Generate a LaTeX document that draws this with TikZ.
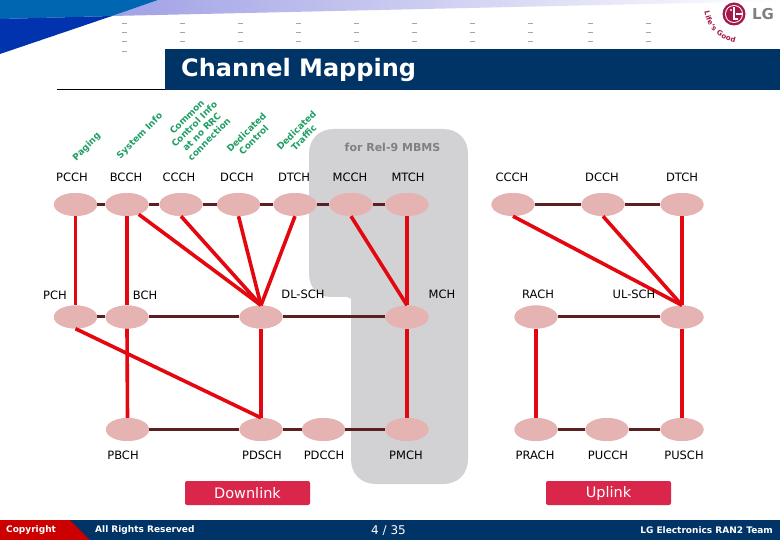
\documentclass[tikz,border=0pt]{standalone}
\usepackage{fontspec}
\setmainfont{DejaVu Sans}
\usetikzlibrary{decorations.text}
\definecolor{navy}{HTML}{003366}
\definecolor{dkline}{HTML}{5C2023}
\definecolor{redline}{HTML}{E4070F}
\definecolor{elfill}{HTML}{E6B3B3}
\definecolor{greenlab}{HTML}{1F9E63}
\definecolor{zone}{HTML}{D2D2D4}
\definecolor{btn}{HTML}{D9264A}
\definecolor{lgred}{HTML}{A5174A}
\tikzset{
  chan/.style={ellipse,fill=elfill,minimum width=43pt,minimum height=23pt,inner sep=0pt},
  lab/.style={font=\fontsize{11.5}{13}\selectfont,text=black,inner sep=0pt},
  glab/.style={font=\fontsize{9}{10.5}\selectfont\bfseries,text=greenlab,rotate=45,align=center,inner sep=0pt},
  dk/.style={draw=dkline,line width=3pt},
  rd/.style={draw=redline,line width=3.6pt},
  button/.style={fill=btn,rounded corners=2pt,minimum width=125pt,minimum height=24pt,inner sep=0pt,text=white,font=\fontsize{14.5}{16}\selectfont},
  foot/.style={font=\fontsize{9}{11}\selectfont\bfseries,text=white,inner sep=0pt},
  tick/.style={draw=black!35,line width=0.7pt}
}
\usetikzlibrary{shapes.geometric}
\begin{document}
\begin{tikzpicture}[x=1pt,y=-1pt]
\useasboundingbox (0,0) rectangle (780,540);
\fill[white] (0,0) rectangle (780,540);
% header
\shade[left color=black!0!blue!30!white!90!black,right color=white] (158,0) -- (780,0) -- (780,1) -- (112,16) -- cycle;
\fill[blue!55!cyan!45!black!60!white,fill=blue!50!black!60!cyan] (0,0) -- (158,0) -- (112,16) -- (0,19) -- cycle;
\fill[fill=blue!60!black!80!cyan] (0,19) -- (112,16) -- (0,54) -- cycle;
\foreach \x in {124,182,240,298,356,414,472,530,590,648}{
  \foreach \y in {23,32,41}{\draw[tick] (\x-2.5,\y) -- (\x+2.5,\y);}
}
\draw[tick] (122,51) -- (127,51);
% logo
\fill[lgred] (734,14) circle (11.5);
\fill[white] (734,14) circle (9);
\fill[lgred] (734,14) circle (8);
\fill[white] (731,10) circle (1.2);
\draw[white,line width=1.2pt] (734,7) -- (734,19) -- (738,19);
\draw[white,line width=1.2pt] (736,14) -- (742,14);
\node[inner sep=0pt,text=black!50,font=\fontsize{15}{16}\selectfont\bfseries] (lg) at (763,14) {LG};
\path[decorate,decoration={text along path,text={|\fontsize{7}{8}\selectfont\bfseries\color{lgred}|Life's Good},text align=center,raise=-2pt}] (706,9) .. controls (708,28) and (720,38) .. (738,41);
% title
\fill[navy] (165,49.5) rectangle (780,90.5);
\draw[black,line width=0.8pt] (57,89.5) -- (165,89.5);
\node[anchor=west,inner sep=0pt,text=white,font=\fontsize{24}{26}\selectfont\bfseries] (title) at (181,70) {Channel Mapping};
% MBMS zone
\fill[zone] (334,129) -- (443,129) .. controls (458,129) and (468,139) .. (468,154) -- (468,459)
  .. controls (468,474) and (458,484) .. (443,484) -- (376,484) .. controls (361,484) and (351,474) .. (351,459)
  -- (351,299) -- (347,297) -- (331,297) .. controls (317,297) and (309,287) .. (309,273) -- (309,154)
  .. controls (309,139) and (319,129) .. (334,129) -- cycle;
\node[inner sep=0pt,text=black!50,font=\fontsize{11}{13}\selectfont\bfseries] (rel) at (392.5,147) {for Rel-9 MBMS};
% green
\node[glab] (g1) at (87,147) {Paging};
\node[glab] (g2) at (140,136) {System Info};
\node[glab] (g3) at (198,128) {Common\\Control Info\\at no RRC\\connection};
\node[glab] (g4) at (250,136) {Dedicated\\Control};
\node[glab] (g5) at (300,134) {Dedicated\\Traffic};
% channels
\foreach \n/\x/\y in {pcch/75.5/204.5,bcch/127/204.5,ccch/181/204.5,dcch/238.5/204.5,dtch/295/204.5,mcch/351/204.5,mtch/407/204.5,
  uccch/513/204.5,udcch/603/204.5,udtch/682/204.5,
  pch/75.5/317,bch/127/317,dlsch/261/317,mch/407/317,rach/536/317,ulsch/682/317,
  pbch/127.5/429.5,pdsch/261/429.5,pdcch/323.5/429.5,pmch/407/429.5,prach/536/429.5,pucch/607/429.5,pusch/682/429.5}{
  \node[chan] (\n) at (\x,\y) {};
}
% transport lines
\foreach \a/\b in {pcch/bcch,bcch/ccch,ccch/dcch,dcch/dtch,dtch/mcch,mcch/mtch,uccch/udcch,udcch/udtch,
  pch/bch,bch/dlsch,dlsch/mch,rach/ulsch,pbch/pdsch,pdsch/pdcch,pdcch/pmch,prach/pucch,pucch/pusch}{
  \draw[dk] (\a) -- (\b);
}
\foreach \n in {pcch,bcch,ccch,dcch,dtch,mcch,mtch,uccch,udcch,udtch,pch,bch,dlsch,mch,rach,ulsch,pbch,pdsch,pdcch,pmch,prach,pucch,pusch}{
  \node[chan] at (\n.center) {};
}
% mappings
\draw[rd] (pcch.south) -- (pch.north);
\draw[rd] (bcch.south) -- (bch.north);
\draw[rd] (bcch.-40) -- (dlsch.north);
\draw[rd] (ccch.south) -- (dlsch.north);
\draw[rd] (dcch.south) -- (dlsch.north);
\draw[rd] (dtch.south) -- (dlsch.north);
\draw[rd] (mcch.south) -- (mch.north);
\draw[rd] (mtch.south) -- (mch.north);
\draw[rd] (bch.south) -- (pbch.north);
\draw[rd] (pch.south) -- (pdsch.north);
\draw[rd] (dlsch.south) -- (pdsch.north);
\draw[rd] (mch.south) -- (pmch.north);
\draw[rd] (uccch.south) -- (ulsch.north);
\draw[rd] (udcch.south) -- (ulsch.north);
\draw[rd] (udtch.south) -- (ulsch.north);
\draw[rd] (rach.south) -- (prach.north);
\draw[rd] (ulsch.south) -- (pusch.north);
% labels
\foreach \n/\x/\y/\t in {l1/72/177/PCCH,l2/126/177/BCCH,l3/179/177/CCCH,l4/237/177/DCCH,l5/294/177/DTCH,l6/350/177/MCCH,l7/408/177/MTCH,
  l8/512/177/CCCH,l9/602/177/DCCH,l10/682/177/DTCH,
  l11/55/295/PCH,l12/145/295/BCH,l13/303/294/DL-SCH,l14/442/294/MCH,l15/538/294/RACH,l16/634/294/UL-SCH,
  l17/123/455/PBCH,l18/262/455/PDSCH,l19/324/455/PDCCH,l20/406/455/PMCH,l21/535/455/PRACH,l22/608/455/PUCCH,l23/684/455/PUSCH}{
  \node[lab] (\n) at (\x,\y) {\t};
}
% buttons
\node[button] (down) at (247.5,493) {Downlink};
\node[button] (up) at (608.5,493) {Uplink};
% footer
\fill[navy] (0,520) rectangle (780,540);
\fill[red!80!black] (0,520) -- (70,520) -- (90,540) -- (0,540) -- cycle;
\node[foot,anchor=west] (f1) at (6,530.5) {Copyright};
\node[foot,anchor=west] (f2) at (95,530.5) {All Rights Reserved};
\node[inner sep=0pt,text=white,font=\fontsize{12}{14}\selectfont] (f3) at (388.5,530.5) {4 / 35};
\node[foot,anchor=east] (f4) at (773,530.5) {LG Electronics RAN2 Team};
\end{tikzpicture}
\end{document}
